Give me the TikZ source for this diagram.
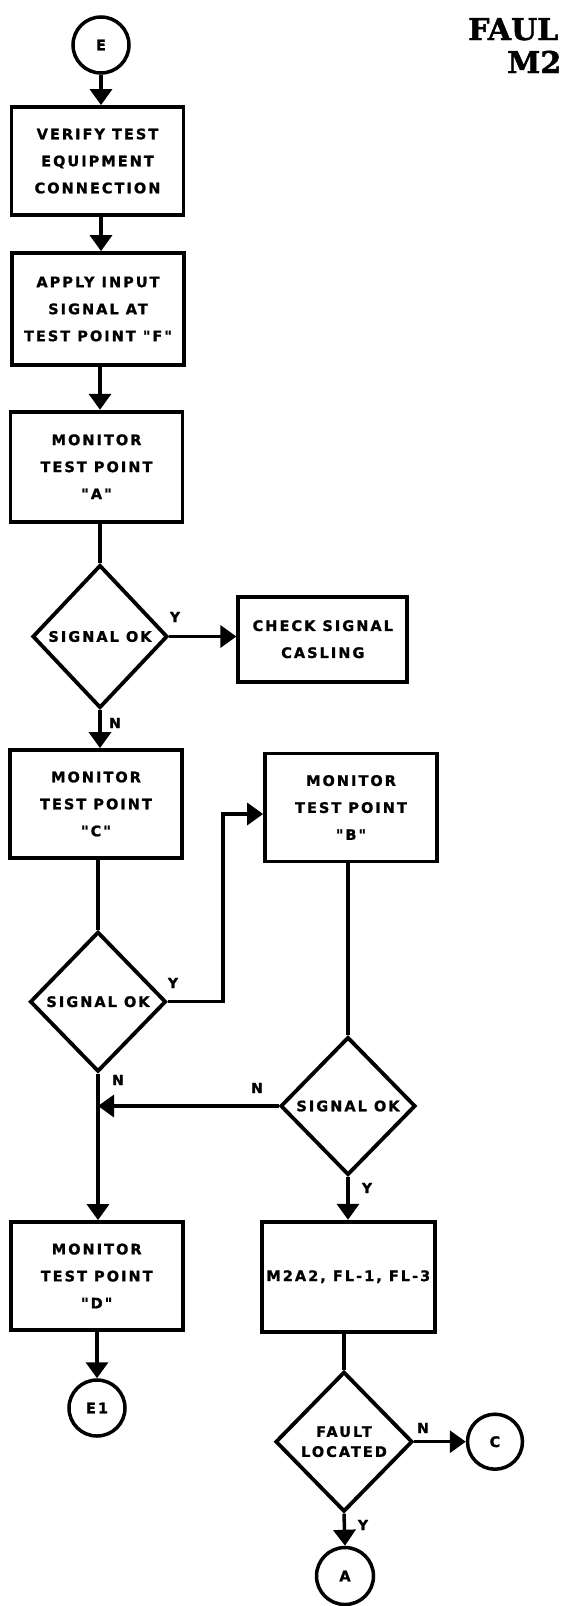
\documentclass[tikz,border=0pt]{standalone}
\usepackage{fontspec}
\usetikzlibrary{shapes.geometric,arrows.meta,calc}
\newfontfamily\lblfont{DejaVu Sans}[LetterSpace=14,FakeBold=1.2]
\newfontfamily\ttlfont{DejaVu Serif}[FakeBold=1.5]
\begin{document}
\begin{tikzpicture}[x=1pt,y=-1pt,
  lbl/.style={font={\lblfont\bfseries\fontsize{14.5}{27}\selectfont},align=center,inner sep=0pt},
  box/.style={draw,line width=3.8pt,minimum width=172pt,minimum height=108pt,inner sep=0pt,lbl},
  dia/.style={draw,diamond,line width=3.8pt,inner sep=0pt,minimum width=135pt,minimum height=140pt},
  circ/.style={draw,circle,line width=3.5pt,minimum size=56pt,inner sep=0pt,lbl},
  arr/.style={line width=3.5pt,-{Triangle[length=16pt,width=22pt]}},
  ln/.style={line width=3.5pt},
  yn/.style={font={\lblfont\bfseries\fontsize{14}{14}\selectfont},inner sep=0pt},
  ttl/.style={font={\ttlfont\bfseries\fontsize{30}{30}\selectfont},inner sep=0pt,anchor=base west}]
\useasboundingbox (0,0) rectangle (563,1606);
% title (at the right edge)
\node[ttl] (t1) at (468,40) {FAUL};
\node[ttl] (t2) at (507,73) {M2};
% left column
\node[circ] (E) at (101,45) {E};
\node[box] (b1) at (97.5,161) {VERIFY TEST\\EQUIPMENT\\CONNECTION};
\node[box,minimum height=112pt] (b2) at (98,309) {APPLY INPUT\\SIGNAL AT\\TEST POINT "F"};
\node[box,minimum height=110pt] (b3) at (96.5,466.7) {MONITOR\\TEST POINT\\"A"};
\node[dia,minimum height=143pt] (d1) at (100,636.5) {};
\node[lbl] at (d1) {SIGNAL OK};
\node[box,minimum width=169pt,minimum height=85pt] (chk) at (322.8,639.2) {CHECK SIGNAL\\CASLING};
\node[box] (bC) at (96,804) {MONITOR\\TEST POINT\\"C"};
\node[box] (bB) at (351,807.5) {MONITOR\\TEST POINT\\"B"};
\node[dia,minimum width=136pt] (d2) at (98,1001.7) {};
\node[lbl] at (d2) {SIGNAL OK};
\node[dia,minimum height=138pt] (d3) at (348,1106) {};
\node[lbl] at (d3) {SIGNAL OK};
\node[box] (bD) at (96.7,1276) {MONITOR\\TEST POINT\\"D"};
\node[box,minimum width=173pt,minimum height=110pt] (m) at (348.3,1276.7) {M2A2, FL-1, FL-3};
\node[circ] (E1) at (97,1408) {E1};
\node[dia,minimum width=137pt] (d4) at (344,1441.7) {};
\node[lbl,font={\lblfont\bfseries\fontsize{14.5}{20}\selectfont}] at (d4) {FAULT\\LOCATED};
\node[circ,minimum size=55pt] (C) at (495,1441.7) {C};
\node[circ,minimum size=57pt] (A) at (345,1576) {A};
\coordinate (ybend) at (223,814);
% connectors
\draw[arr] (E) -- (E |- b1.north);
\draw[arr] (b1.south -| E) -- (b2.north -| E);
\draw[arr] (b2.south -| d1) -- (b3.north -| d1);
\draw[ln] (b3.south -| d1) -- (d1.north);
\draw[arr] (d1.east) -- (d1.east -| chk.west);
\draw[arr] (d1.south) -- (d1 |- bC.north);
\draw[ln] (bC.south -| d2) -- (d2.north);
\draw[arr] (d2.east) -| (ybend) -- (ybend -| bB.west);
\draw[ln] (bB.south -| d3) -- (d3.north);
\draw[arr] (d2.south) -- (d2 |- bD.north);
\draw[arr] (d3.west) -- (d3.west -| d2);
\draw[arr] (d3.south) -- (d3 |- m.north);
\draw[arr] (bD.south -| E1) -- (E1.north);
\draw[ln] (m.south -| d4) -- (d4.north);
\draw[arr] (d4.east) -- (C.west);
\draw[arr] (d4.south) -- (A.north);
% Y/N labels
\node[yn] (y1) at (175,617) {Y};
\node[yn] (n1) at (115,723) {N};
\node[yn] (y2) at (173,983) {Y};
\node[yn] (n2) at (118,1080) {N};
\node[yn] (n3) at (257,1088) {N};
\node[yn] (y3) at (367,1188) {Y};
\node[yn] (n4) at (423,1428) {N};
\node[yn] (y4) at (363,1525) {Y};
\end{tikzpicture}
\end{document}
